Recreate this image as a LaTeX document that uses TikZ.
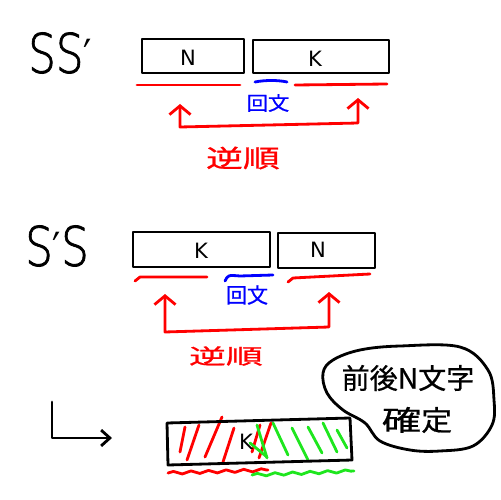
\documentclass[tikz,border=0pt]{standalone}
\usepackage{fontspec}
\setmainfont{DejaVu Sans}
\newfontfamily\thinfont{DejaVu Sans ExtraLight}[FakeBold=1.5]
\newfontfamily\primefont{DejaVu Sans}
\newfontfamily\cjk{Noto Sans CJK JP}[FakeBold=0.7]
\newcommand{\myprime}{{\primefont\fontsize{26}{26}\selectfont ′}}
\usetikzlibrary{arrows.meta,decorations.pathmorphing}
\definecolor{hred}{RGB}{255,0,0}
\definecolor{hblue}{RGB}{0,0,255}
\definecolor{hgreen}{RGB}{30,230,30}
\tikzset{
  ink/.style={line width=1.6pt, line cap=round, line join=round},
  boxline/.style={ink, draw=black},
  redline/.style={ink, draw=hred},
  blueline/.style={ink, draw=hblue},
  greenline/.style={ink, draw=hgreen},
  barb/.style={{Straight Barb[length=5pt,width=12pt]}-{Straight Barb[length=5pt,width=12pt]}},
  bigS/.style={inner sep=0pt, font=\thinfont\fontsize{31}{31}\selectfont},
  letter/.style={inner sep=0pt, font=\fontsize{12}{12}\selectfont},
  redtext/.style={inner sep=0pt, text=hred},
  bluetext/.style={inner sep=0pt, text=hblue},
  wavy/.style={decorate, decoration={snake, amplitude=0.8pt, segment length=10pt}}
}
\begin{document}
\begin{tikzpicture}[x=0.02cm, y=-0.02cm]
\useasboundingbox (0,0) rectangle (500,500);
% ---------- SS' ----------
\node[bigS] (ss1) at (60,53) {\scalebox{0.8}[1]{SS\myprime}};
\draw[boxline] (142,39) rectangle (244,73);
\node[letter] (n1) at (188,58) {N};
\draw[boxline] (253,40) rectangle (389,73);
\node[letter] (k1) at (315,59) {K};
\draw[redline] (137,85) -- (240,85);
\draw[redline] (295,85) -- (387,84);
\draw[blueline] (255,82) .. controls (265,80) and (278,80) .. (287,82);
\node[bluetext] (kai1) at (268,103) {\cjk\fontsize{11}{11}\selectfont\scalebox{1.1}[1]{回文}};
\coordinate (a1l) at (180,104);
\coordinate (a1r) at (358,98);
\draw[redline, barb] (a1l) -- (180,127) -- (358,123) -- (a1r);
\node[redtext] (gy1) at (243,158) {\cjk\fontsize{14}{14}\selectfont\scalebox{1.5}[1]{逆順}};
% ---------- S'S ----------
\node[bigS] (ss2) at (57,246) {\scalebox{0.8}[1]{S\myprime S}};
\draw[boxline] (133,232) rectangle (270,267);
\node[letter] (k2) at (201,251) {K};
\draw[boxline] (278,233) rectangle (375,268);
\node[letter] (n2) at (318,250) {N};
\draw[redline] (135,281) -- (140,277) -- (207,277);
\draw[redline] (288,282) -- (293,278) -- (370,274);
\draw[blueline] (225,281) .. controls (228,275) .. (240,276) -- (273,275);
\node[bluetext] (kai2) at (247,295) {\cjk\fontsize{12}{12}\selectfont\scalebox{1.0}[1]{回文}};
\coordinate (a2l) at (165,294);
\coordinate (a2r) at (329,292);
\draw[redline, barb] (a2l) -- (165,332) -- (329,327) -- (a2r);
\node[redtext] (gy2) at (226,356) {\cjk\fontsize{12}{12}\selectfont\scalebox{1.75}[1]{逆順}};
% ---------- bottom ----------
\coordinate (lt) at (52,402);
\coordinate (lc) at (52,438);
\coordinate (lr) at (112,438);
\draw[boxline, -{Straight Barb[length=5pt,width=9pt]}] (lt) -- (lc) -- (lr);
% hatches red
\draw[redline] (185,427) -- (180,452);
\draw[redline] (199,425) -- (187,460);
\draw[redline] (222,417) -- (205,457);
\draw[redline] (234,428) -- (223,462);
\draw[redline] (260,425) -- (252,452);
\draw[redline] (271,423) -- (259,458);
% hatches green
\draw[greenline] (257,425) -- (267,458);
\draw[greenline] (273,423) -- (288,455);
\draw[greenline] (292,428) -- (308,460);
\draw[greenline] (308,427) -- (322,453);
\draw[greenline] (323,423) -- (337,452);
\draw[greenline] (337,430) -- (347,448);
\draw[greenline] (250,443) -- (267,457);
\draw[boxline] (167,423) -- (350,418) -- (352,460) -- (168,465) -- cycle;
\node[letter] (k3) at (246,442) {K};
\draw[redline, wavy] (168,473) -- (268,470);
\draw[greenline, wavy] (252,475) -- (354,471);
% bubble
\draw[boxline] plot[smooth cycle, tension=0.6] coordinates {
  (333,360) (360,350) (400,346) (460,347) (488,370) (494,400) (492,425)
  (473,446) (440,451) (410,450) (380,441) (365,423) (343,410) (327,393) (323,373)};
\node[inner sep=0pt] (b1) at (408,378) {\cjk\fontsize{16}{16}\selectfont 前後N文字};
\node[inner sep=0pt] (b2) at (417,420) {\cjk\fontsize{16}{16}\selectfont\scalebox{1.4}[1]{確}\scalebox{1.1}[1]{定}};
\end{tikzpicture}
\end{document}
